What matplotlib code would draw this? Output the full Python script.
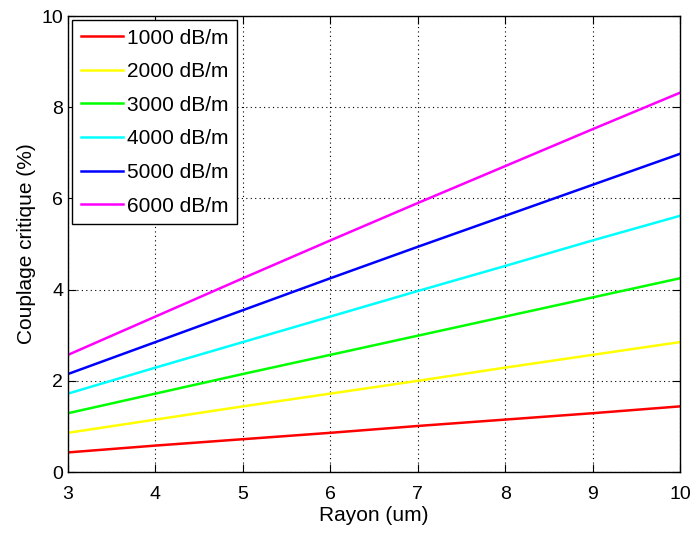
import matplotlib
matplotlib.use('Agg')
import matplotlib.pyplot as plt

plt.rcParams['font.family'] = ['Liberation Sans', 'DejaVu Sans']

# rayon (um)
rayon = [3, 4, 5, 6, 7, 8, 9, 10]

# couplage critique (%)
c_1000 = [0.43, 0.58, 0.72, 0.86, 1.01, 1.15, 1.29, 1.44]
c_2000 = [0.86, 1.15, 1.44, 1.72, 2.00, 2.29, 2.57, 2.85]
c_3000 = [1.29, 1.72, 2.15, 2.57, 2.99, 3.41, 3.83, 4.25]
c_4000 = [1.72, 2.29, 2.85, 3.41, 3.97, 4.52, 5.08, 5.62]
c_5000 = [2.15, 2.85, 3.55, 4.25, 4.94, 5.62, 6.30, 6.98]
c_6000 = [2.57, 3.41, 4.25, 5.08, 5.90, 6.71, 7.52, 8.32]

labels = ['1000 dB/m', '2000 dB/m', '3000 dB/m', '4000 dB/m', '5000 dB/m', '6000 dB/m']
series = [c_1000, c_2000, c_3000, c_4000, c_5000, c_6000]
colors = ['#ff0000', '#ffff00', '#00ff00', '#00ffff', '#0000ff', '#ff00ff']

fig = plt.figure(figsize=(6.9, 5.37), dpi=100)
ax = fig.add_axes([0.0986, 0.121, 0.887, 0.849])

for y, c, lab in zip(series, colors, labels):
    ax.plot(rayon, y, color=c, lw=1.8, label=lab)

ax.set_xlim(3, 10)
ax.set_ylim(0, 10)
ax.set_xticks(range(3, 11))
ax.set_yticks(range(0, 11, 2))
ax.grid(True, color='black', linestyle=(0, (1, 3)), linewidth=0.8)
ax.tick_params(direction='in', top=True, right=True, labelsize=14, length=5.5)
ax.tick_params(axis='x', pad=10)
ax.tick_params(axis='y', pad=3.5)
for s in ax.spines.values():
    s.set_linewidth(1.0)

ax.set_xlabel('Rayon (um)', fontsize=15, labelpad=2.5)
ax.set_ylabel('Couplage critique (%)', fontsize=15, labelpad=4)

leg = ax.legend(loc='upper left', fontsize=15, fancybox=False, edgecolor='black',
                framealpha=1, handlelength=2.05, labelspacing=0.7,
                borderaxespad=0.2, handletextpad=0.2, borderpad=0.4)
leg.get_frame().set_linewidth(1.0)

fig.savefig('out.png', dpi=100)
